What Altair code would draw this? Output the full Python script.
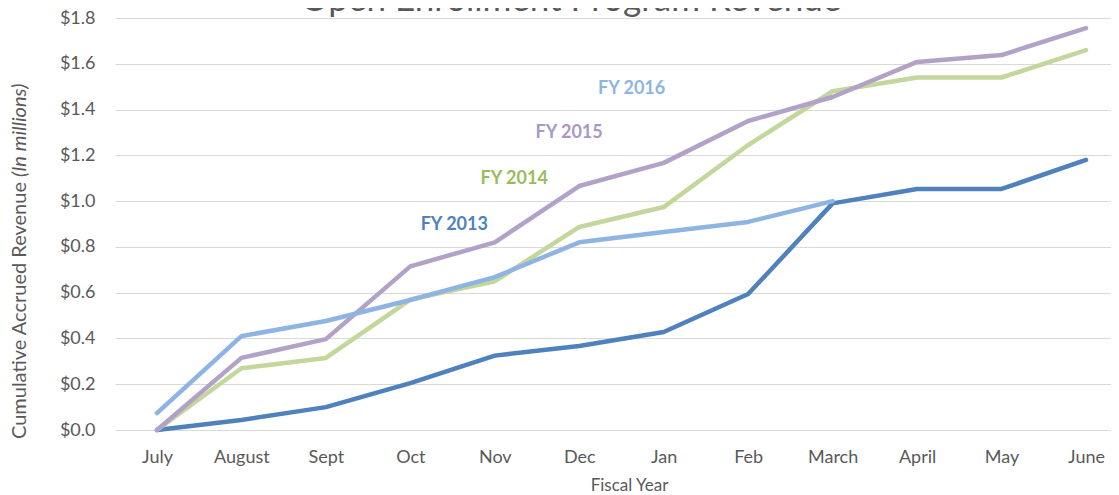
import altair as alt
import pandas as pd

months = ["July", "August", "Sept", "Oct", "Nov", "Dec", "Jan", "Feb", "March", "April", "May", "June"]
series_names = ["FY 2013", "FY 2014", "FY 2015", "FY 2016"]
fy2013 = [0.0, 0.044, 0.10, 0.205, 0.325, 0.367, 0.428, 0.594, 0.99, 1.053, 1.053, 1.18]
fy2014 = [0.0, 0.27, 0.315, 0.57, 0.65, 0.887, 0.974, 1.245, 1.48, 1.54, 1.54, 1.66]
fy2015 = [0.0, 0.315, 0.397, 0.715, 0.82, 1.066, 1.167, 1.35, 1.455, 1.608, 1.638, 1.756]
fy2016 = [0.074, 0.41, 0.476, 0.568, 0.668, 0.82, 0.865, 0.909, 1.0]
y_ticks = [0.0, 0.2, 0.4, 0.6, 0.8, 1.0, 1.2, 1.4, 1.6, 1.8]

# label anchors (in data units: month index, revenue)
label_idx = [3.52, 4.23, 4.88, 5.62]
label_val = [0.896, 1.097, 1.297, 1.49]

line_colors = ["#4F81BD", "#C3D69B", "#B3A2C7", "#8EB4E3"]
text_colors = ["#4F81BD", "#9BBB59", "#A997C6", "#8EB4E3"]

rows = []
for name, vals in zip(series_names, [fy2013, fy2014, fy2015, fy2016]):
    for i, v in enumerate(vals):
        rows.append({"series": name, "idx": i, "month": months[i], "value": v})
df = pd.DataFrame(rows)
labels_df = pd.DataFrame({"series": series_names, "lx": label_idx, "ly": label_val})

FONT = "Lato"
GRAY = "#595959"

x_scale = alt.Scale(domain=[-0.497, 11.296], nice=False, zero=False)
y_scale = alt.Scale(domain=[0, 1.8], nice=False)

month_expr = "[" + ",".join("'%s'" % m for m in months) + "][datum.value]"

lines = alt.Chart(df).mark_line(strokeWidth=4.5, strokeCap="round", strokeJoin="round").encode(
    x=alt.X("idx:Q", scale=x_scale,
            axis=alt.Axis(values=list(range(len(months))), labelExpr=month_expr, grid=False,
                          ticks=False, domain=False, labelFont=FONT, labelFontSize=18,
                          labelColor=GRAY, labelPadding=18, title="Fiscal Year",
                          titleFont=FONT, titleFontSize=17, titleFontWeight="normal",
                          titleColor=GRAY, titleX=514, titleY=60, titleAlign="center",
                          titleBaseline="alphabetic")),
    y=alt.Y("value:Q", scale=y_scale,
            axis=alt.Axis(values=y_ticks, format="$.1f", grid=True, gridColor="#D9D9D9",
                          gridWidth=1.2, ticks=False, domain=False, labelFont=FONT,
                          labelFontSize=18, labelColor=GRAY, labelPadding=20, title=None)),
    color=alt.Color("series:N", scale=alt.Scale(domain=series_names, range=line_colors), legend=None),
    detail="series:N",
    order="idx:Q",
)

texts = alt.Chart(labels_df).mark_text(font=FONT, fontSize=18, fontWeight="bold").encode(
    x=alt.X("lx:Q", scale=x_scale),
    y=alt.Y("ly:Q", scale=y_scale),
    text="series:N",
    color=alt.Color("series:N", scale=alt.Scale(domain=series_names, range=text_colors), legend=None),
)

ytitle1 = alt.Chart(pd.DataFrame({"t": ["Cumulative Accrued Revenue"]})).mark_text(
    font=FONT, fontSize=20, color=GRAY, angle=270, align="right", baseline="middle"
).encode(text="t:N", x=alt.value(-95), y=alt.value(164))

ytitle2 = alt.Chart(pd.DataFrame({"t": ["(In millions)"]})).mark_text(
    font=FONT, fontSize=20, color=GRAY, angle=270, align="left", baseline="middle", fontStyle="italic"
).encode(text="t:N", x=alt.value(-95), y=alt.value(159))

title = alt.Chart(pd.DataFrame({"t": ["Open Enrollment Program Revenue"]})).mark_text(
    font=FONT, fontSize=35, color=GRAY, align="center", baseline="alphabetic"
).encode(text="t:N", x=alt.value(456), y=alt.value(-7))

chart = alt.layer(lines, texts, ytitle1, ytitle2, title).resolve_scale(color="independent").properties(
    width=996, height=412,
    autosize=alt.AutoSizeParams(type="none"),
    padding={"left": 107, "top": 10, "right": 0, "bottom": 66},
).configure_view(stroke=None)

chart.save("out.html", embed_options={"renderer": "svg", "actions": False})
